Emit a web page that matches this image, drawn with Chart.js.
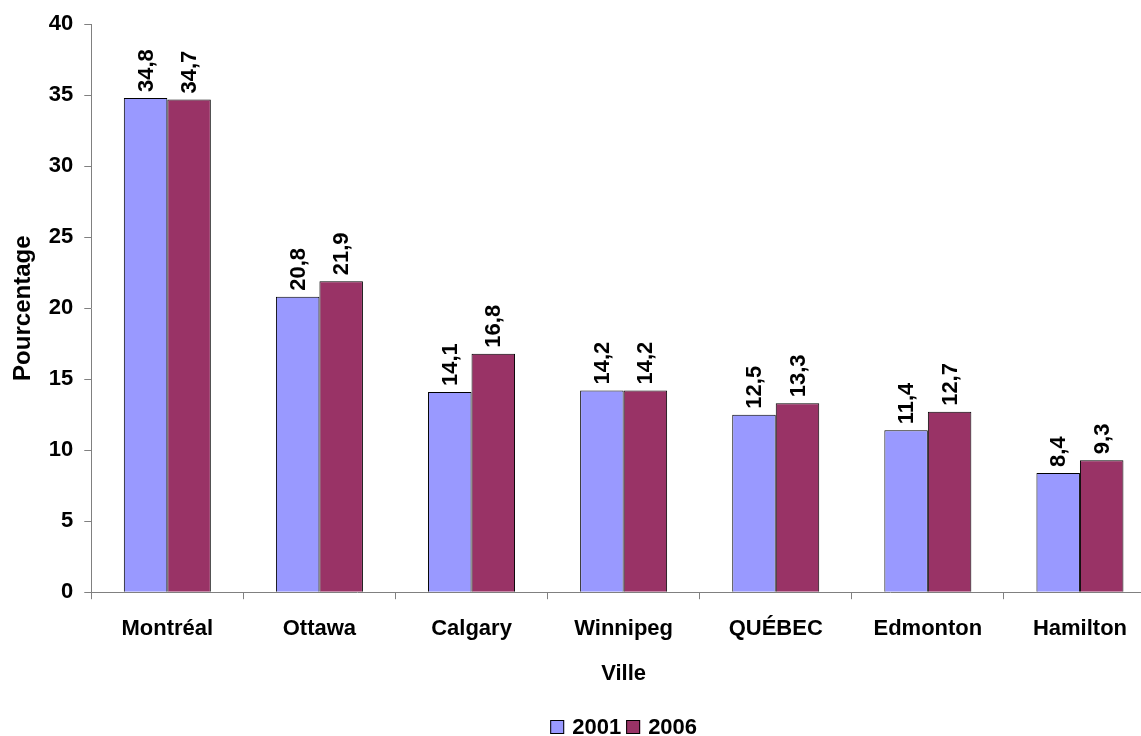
<!DOCTYPE html>
<html>
<head>
<meta charset="utf-8">
<script src="https://cdn.jsdelivr.net/npm/chart.js@4"></script>
<style>
    html, body { margin: 0; padding: 0; background: #ffffff; overflow: hidden; }
    #wrap { position: relative; width: 1156px; height: 736px; }
</style>
</head>
<body>
<div id="wrap"><canvas id="chart"></canvas></div>
<script>
const villes = ['Montréal', 'Ottawa', 'Calgary', 'Winnipeg', 'QUÉBEC', 'Edmonton', 'Hamilton'];
const valeurs2001 = [34.8, 20.8, 14.1, 14.2, 12.5, 11.4, 8.4];
const valeurs2006 = [34.7, 21.9, 16.8, 14.2, 13.3, 12.7, 9.3];
const annees = ['2001', '2006'];
const couleurs = ['#9999FF', '#993366'];

const FONT = "'Liberation Sans', Arial, sans-serif";

function formatValeur(v) {
    return v.toFixed(1).replace('.', ',');
}

// Étiquettes verticales au-dessus des barres
const etiquettesBarres = {
    id: 'etiquettesBarres',
    afterDatasetsDraw(chart) {
        const ctx = chart.ctx;
        ctx.save();
        ctx.font = 'bold 22px ' + FONT;
        ctx.fillStyle = '#000000';
        ctx.textAlign = 'left';
        ctx.textBaseline = 'middle';
        chart.data.datasets.forEach(function(ds, i) {
            const meta = chart.getDatasetMeta(i);
            meta.data.forEach(function(bar, j) {
                ctx.save();
                ctx.translate(bar.x, bar.y - 6);
                ctx.rotate(-Math.PI / 2);
                ctx.fillText(formatValeur(ds.data[j]), 0, 1);
                ctx.restore();
            });
        });
        ctx.restore();
    }
};

// Légende centrée sous la zone de tracé
const legendeBas = {
    id: 'legendeBas',
    afterDraw(chart) {
        const ctx = chart.ctx;
        const area = chart.chartArea;
        const y = 727;
        const box = 14;
        const gapBox = 8;
        const gapItem = 5;
        ctx.save();
        ctx.font = 'bold 22px ' + FONT;
        ctx.textBaseline = 'middle';
        ctx.textAlign = 'left';
        let total = 0;
        const largeurs = chart.data.datasets.map(function(ds) {
            return ctx.measureText(ds.label).width;
        });
        largeurs.forEach(function(w, i) {
            total += box + gapBox + w + (i < largeurs.length - 1 ? gapItem : 0);
        });
        let x = (area.left + area.right) / 2 - total / 2;
        chart.data.datasets.forEach(function(ds, i) {
            ctx.fillStyle = ds.backgroundColor;
            ctx.fillRect(x, y - box / 2, box, box);
            ctx.strokeStyle = '#000000';
            ctx.lineWidth = 1;
            ctx.strokeRect(x + 0.5, y - box / 2 + 0.5, box - 1, box - 1);
            x += box + gapBox;
            ctx.fillStyle = '#000000';
            ctx.fillText(ds.label, x, y + 1);
            x += largeurs[i] + gapItem;
        });
        ctx.restore();
    }
};

new Chart(document.getElementById('chart'), {
    type: 'bar',
    data: {
        labels: villes,
        datasets: [{
            label: annees[0],
            data: valeurs2001,
            backgroundColor: couleurs[0],
            borderColor: '#000000',
            borderWidth: 1,
            categoryPercentage: 0.572,
            barPercentage: 1.0
        }, {
            label: annees[1],
            data: valeurs2006,
            backgroundColor: couleurs[1],
            borderColor: '#000000',
            borderWidth: 1,
            categoryPercentage: 0.572,
            barPercentage: 1.0
        }]
    },
    options: {
        responsive: true,
        maintainAspectRatio: false,
        animation: false,
        devicePixelRatio: 1,
        layout: {
            padding: { top: 24, bottom: 49, left: 0, right: 0 }
        },
        plugins: {
            legend: { display: false },
            tooltip: { enabled: false }
        },
        scales: {
            x: {
                offset: true,
                border: { display: true, color: '#808080', width: 1 },
                grid: {
                    offset: true,
                    drawOnChartArea: false,
                    drawTicks: true,
                    tickLength: 7,
                    color: '#808080'
                },
                ticks: {
                    color: '#000000',
                    padding: 17,
                    maxRotation: 0,
                    font: { family: FONT, size: 22, weight: 'bold' }
                },
                title: {
                    display: true,
                    text: 'Ville',
                    color: '#000000',
                    padding: { top: 1, bottom: 0 },
                    font: { family: FONT, size: 22, weight: 'bold' }
                }
            },
            y: {
                min: 0,
                max: 40,
                border: { display: true, color: '#808080', width: 1 },
                grid: {
                    drawOnChartArea: false,
                    drawTicks: true,
                    tickLength: 7,
                    color: '#808080'
                },
                ticks: {
                    stepSize: 5,
                    color: '#000000',
                    padding: 11,
                    font: { family: FONT, size: 22, weight: 'bold' }
                },
                title: {
                    display: true,
                    text: 'Pourcentage',
                    color: '#000000',
                    padding: { top: 9, bottom: 0 },
                    font: { family: FONT, size: 24, weight: 'bold' }
                }
            }
        }
    },
    plugins: [etiquettesBarres, legendeBas]
});
</script>
</body>
</html>
